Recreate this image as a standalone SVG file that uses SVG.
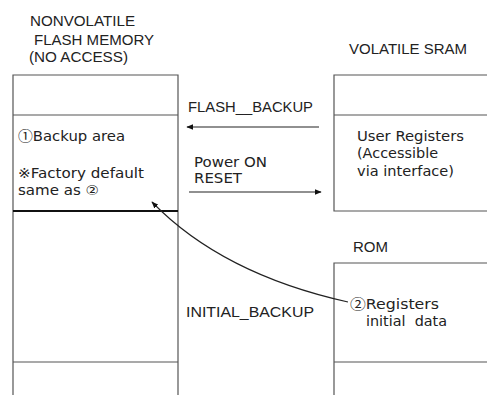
<svg xmlns="http://www.w3.org/2000/svg" width="487" height="395" viewBox="0 0 487 395">
<style>
.bg{fill:#fff}
.box{fill:none;stroke:#555;stroke-width:1.2}
.thick{stroke:#111;stroke-width:2.2}
.cap{font-family:"Liberation Sans",Arial,sans-serif;font-size:14px;fill:#222}
.txt{font-family:"DejaVu Sans",Verdana,sans-serif;font-size:13.5px;fill:#222}
.cjk{font-family:"Noto Sans CJK JP",sans-serif}
.conn{fill:none;stroke:#222;stroke-width:1.1}
</style>
<defs>
<marker id="ah" viewBox="0 0 10 10" refX="9" refY="5" markerWidth="7" markerHeight="7" markerUnits="userSpaceOnUse" orient="auto">
<path d="M0,1 L10,5 L0,9 Z" fill="#111"/>
</marker>
</defs>
<rect class="bg" x="0" y="0" width="487" height="395"/>

<g id="flash">
<text class="cap" x="30" y="26" font-size="15" textLength="105" lengthAdjust="spacingAndGlyphs">NONVOLATILE</text>
<text class="cap" x="34" y="45" textLength="120" lengthAdjust="spacingAndGlyphs">FLASH MEMORY</text>
<text class="cap" x="29" y="62" textLength="99" lengthAdjust="spacingAndGlyphs">(NO ACCESS)</text>
<path class="box" d="M13,395 V75 H178 V395 M13,115 H178 M13,362 H178"/>
<line class="thick" x1="13" y1="211" x2="178" y2="211"/>
<text class="txt" x="18" y="141" textLength="107" lengthAdjust="spacingAndGlyphs"><tspan class="cjk">①</tspan>Backup area</text>
<text class="txt" x="18" y="178" textLength="126" lengthAdjust="spacingAndGlyphs">※Factory default</text>
<text class="txt" x="18" y="195" textLength="81" lengthAdjust="spacingAndGlyphs">same as ②</text>
</g>

<g id="sram">
<text class="cap" x="349" y="54" textLength="118" lengthAdjust="spacingAndGlyphs">VOLATILE SRAM</text>
<path class="box" d="M487,75 H334 V211 H487 M334,115 H487"/>
<text class="txt" x="357" y="141" textLength="107" lengthAdjust="spacingAndGlyphs">User Registers</text>
<text class="txt" x="357" y="158" textLength="81" lengthAdjust="spacingAndGlyphs">(Accessible</text>
<text class="txt" x="357" y="176" textLength="97" lengthAdjust="spacingAndGlyphs">via interface)</text>
</g>

<g id="rom">
<text class="cap" x="353" y="252" textLength="35" lengthAdjust="spacingAndGlyphs">ROM</text>
<path class="box" d="M334,395 V263 H487 M334,362 H487"/>
<text class="txt" x="350" y="309" textLength="89" lengthAdjust="spacingAndGlyphs"><tspan class="cjk">②</tspan>Registers</text>
<text class="txt" x="366" y="326" textLength="81" lengthAdjust="spacingAndGlyphs" style="white-space:pre">initial  data</text>
</g>

<g id="connectors">
<line class="conn" x1="319" y1="127" x2="187" y2="127" marker-end="url(#ah)"/>
<text class="cap" x="188" y="112" textLength="125" lengthAdjust="spacingAndGlyphs">FLASH__BACKUP</text>
<line class="conn" x1="189" y1="192" x2="321" y2="192" marker-end="url(#ah)"/>
<text class="txt" x="194" y="167" textLength="73" lengthAdjust="spacingAndGlyphs">Power ON</text>
<text class="txt" x="194" y="183" textLength="48" lengthAdjust="spacingAndGlyphs">RESET</text>
<path class="conn" d="M348,302 Q222,274 152,202" marker-end="url(#ah)"/>
<text class="cap" x="186" y="317" textLength="128" lengthAdjust="spacingAndGlyphs">INITIAL_BACKUP</text>
</g>
</svg>
